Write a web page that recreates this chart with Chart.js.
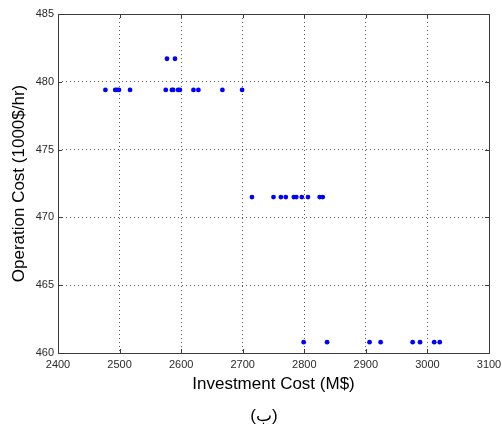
<!DOCTYPE html>
<html>
<head>
<meta charset="utf-8">
<script src="https://cdn.jsdelivr.net/npm/chart.js@4"></script>
<style>
  body { margin: 0; background: #fff; }
  #wrap { width: 502px; height: 430px; }
</style>
</head>
<body>
<div id="wrap"><canvas id="chart" width="502" height="430"></canvas></div>
<script>
// Pareto front points
const investCost = [
  2477, 2493, 2496, 2499, 2517, 2575, 2585, 2587, 2595, 2598, 2620, 2628, 2667, 2699,
  2577, 2590,
  2715, 2750, 2762, 2770, 2783, 2787, 2796, 2806, 2825, 2830,
  2799, 2837, 2906, 2924, 2976, 2988, 3011, 3020
];
const operationCost = [
  479.4, 479.4, 479.4, 479.4, 479.4, 479.4, 479.4, 479.4, 479.4, 479.4, 479.4, 479.4, 479.4, 479.4,
  481.7, 481.7,
  471.5, 471.5, 471.5, 471.5, 471.5, 471.5, 471.5, 471.5, 471.5, 471.5,
  460.8, 460.8, 460.8, 460.8, 460.8, 460.8, 460.8, 460.8
];
const xTicks = [2400, 2500, 2600, 2700, 2800, 2900, 3000, 3100];
const yTicks = [460, 465, 470, 475, 480, 485];
const xLabel = "Investment Cost (M$)";
const yLabel = "Operation Cost (1000$/hr)";
const caption = "(ب)";

const points = investCost.map((x, i) => ({ x: x, y: operationCost[i] }));
const fontFamily = "'Liberation Sans', Arial, sans-serif";

// box round the axes, inner tick marks and the caption under the figure
const boxPlugin = {
  id: "box",
  afterDraw(chart) {
    const ctx = chart.ctx;
    const a = chart.chartArea;
    const xs = chart.scales.x;
    const ys = chart.scales.y;
    ctx.save();
    ctx.strokeStyle = "#3a3a3a";
    ctx.lineWidth = 1;
    ctx.beginPath();
    xTicks.forEach((t) => {
      const px = Math.round(xs.getPixelForValue(t)) + 0.5;
      ctx.moveTo(px, a.bottom); ctx.lineTo(px, a.bottom - 4);
      ctx.moveTo(px, a.top); ctx.lineTo(px, a.top + 4);
    });
    yTicks.forEach((t) => {
      const py = Math.round(ys.getPixelForValue(t)) + 0.5;
      ctx.moveTo(a.left, py); ctx.lineTo(a.left + 4, py);
      ctx.moveTo(a.right, py); ctx.lineTo(a.right - 4, py);
    });
    ctx.stroke();
    ctx.strokeRect(Math.round(a.left) + 0.5, Math.round(a.top) + 0.5,
      Math.round(a.right - a.left), Math.round(a.bottom - a.top));
    ctx.fillStyle = "#000";
    ctx.font = "17px " + fontFamily;
    ctx.textAlign = "center";
    ctx.textBaseline = "middle";
    ctx.fillText(caption, 264, 416);
    ctx.restore();
  },
};

new Chart(document.getElementById("chart"), {
  type: "scatter",
  data: {
    datasets: [
      {
        data: points,
        backgroundColor: "#0000ff",
        borderWidth: 0,
        pointRadius: 2.4,
        pointHoverRadius: 2.4,
      },
    ],
  },
  options: {
    responsive: false,
    animation: false,
    layout: { padding: { top: 14, right: 13, left: 0, bottom: 0 } },
    plugins: {
      legend: { display: false },
      tooltip: { enabled: false },
    },
    scales: {
      x: {
        type: "linear",
        min: 2400,
        max: 3100,
        afterBuildTicks: (s) => { s.ticks = xTicks.map((v) => ({ value: v })); },
        afterFit: (s) => { s.height = 77; s.paddingLeft = 0; s.paddingRight = 0; },
        ticks: {
          color: "#2a2a2a",
          font: { family: fontFamily, size: 11 },
          padding: 5,
          maxRotation: 0,
          callback: (v) => String(v),
        },
        grid: {
          color: "rgba(0,0,0,0.65)",
          borderDash: [1, 3],
          drawTicks: false,
        },
        border: { display: false, dash: [1, 3] },
        title: {
          display: true,
          text: xLabel,
          color: "#000",
          font: { family: fontFamily, size: 17 },
          padding: { top: 0, bottom: 35 },
        },
      },
      y: {
        type: "linear",
        min: 460,
        max: 485,
        afterBuildTicks: (s) => { s.ticks = yTicks.map((v) => ({ value: v })); },
        afterFit: (s) => { s.width = 58; s.paddingTop = 0; s.paddingBottom = 0; },
        ticks: {
          color: "#2a2a2a",
          font: { family: fontFamily, size: 11 },
          padding: 4,
          callback: (v) => String(v),
        },
        grid: {
          color: "rgba(0,0,0,0.65)",
          borderDash: [1, 3],
          drawTicks: false,
        },
        border: { display: false, dash: [1, 3] },
        title: {
          display: true,
          text: yLabel,
          color: "#000",
          font: { family: fontFamily, size: 17 },
          padding: { top: 9, bottom: 0 },
        },
      },
    },
  },
  plugins: [boxPlugin],
});
</script>
</body>
</html>
